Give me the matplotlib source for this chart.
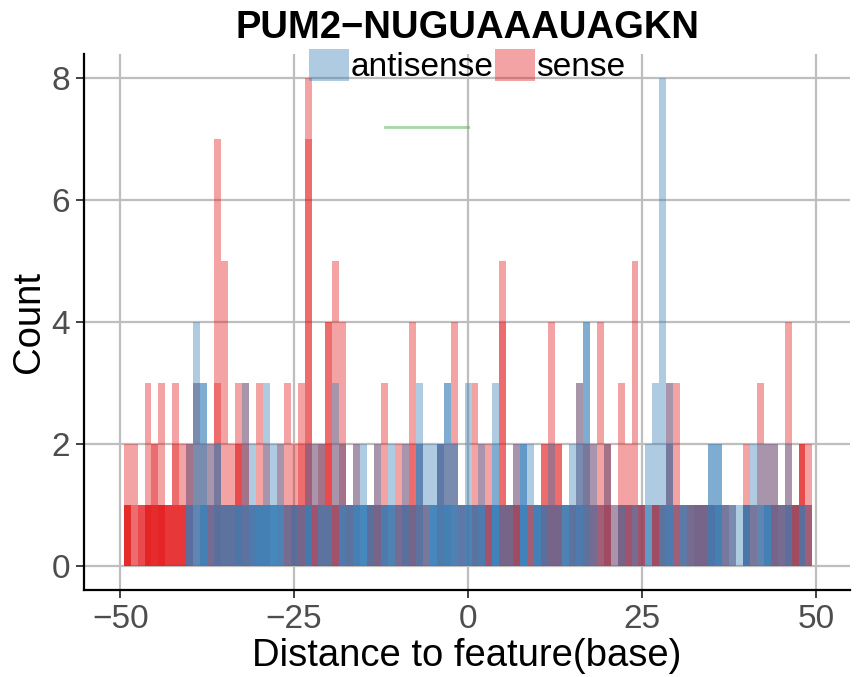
import numpy as np
import matplotlib
matplotlib.use("Agg")
import matplotlib.pyplot as plt
from matplotlib.patches import Patch

plt.rcParams['font.family'] = ['Liberation Sans', 'DejaVu Sans']

# positions (base) relative to the feature
positions = np.arange(-49, 50)

# number of overlapping bars per position, and heights of the taller ones (0 = height 1)
sense_n = [5, 2, 3, 6, 5, 6, 4, 4, 4, 4,
           1, 1, 3, 4, 3, 3, 3, 3, 2, 1,
           1, 0, 1, 3, 4, 4, 3, 4, 3, 3,
           4, 2, 3, 1, 0, 4, 4, 2, 1, 3,
           4, 4, 3, 2, 0, 2, 1, 1, 2, 1,
           3, 2, 4, 0, 4, 4, 5, 0, 3, 1,
           4, 4, 4, 1, 3, 2, 3, 3, 3, 5,
           1, 4, 4, 3, 4, 0, 5, 3, 2, 3,
           2, 3, 4, 4, 3, 1, 2, 1, 0, 3,
           2, 1, 1, 4, 3, 4, 5, 4, 3]
sense_h1 = [2, 2, 0, 3, 2, 3, 0, 3, 2, 2,
            3, 2, 2, 7, 5, 2, 3, 3, 0, 3,
            2, 0, 2, 3, 2, 3, 8, 2, 2, 4,
            5, 4, 0, 2, 0, 0, 2, 3, 0, 2,
            2, 4, 2, 0, 0, 2, 2, 4, 0, 0,
            3, 2, 2, 0, 5, 0, 2, 0, 0, 0,
            2, 4, 2, 0, 0, 3, 2, 2, 4, 2,
            0, 3, 2, 5, 0, 0, 0, 0, 3, 3,
            0, 0, 0, 0, 0, 0, 0, 0, 0, 2,
            0, 3, 2, 2, 0, 4, 0, 2, 2]
sense_h2 = [0, 0, 0, 0, 2, 0, 0, 2, 0, 2,
            0, 0, 0, 3, 0, 0, 2, 2, 0, 0,
            0, 0, 0, 0, 0, 2, 7, 0, 2, 4,
            0, 2, 0, 0, 0, 0, 0, 0, 0, 0,
            0, 2, 0, 0, 0, 2, 0, 0, 0, 0,
            0, 0, 0, 0, 4, 0, 0, 0, 0, 0,
            2, 2, 2, 0, 0, 0, 2, 0, 0, 2,
            0, 0, 0, 0, 0, 0, 0, 0, 2, 0,
            0, 0, 0, 0, 0, 0, 0, 0, 0, 0,
            0, 0, 0, 0, 0, 0, 0, 2, 0]
sense_h3 = [0] * 99
for k in (16, 26, 29, 97):
    sense_h3[k] = 2

anti_n = [0, 0, 0, 0, 0, 0, 0, 0, 0, 3,
          3, 5, 2, 3, 3, 3, 4, 3, 4, 5,
          5, 5, 4, 2, 3, 2, 5, 1, 3, 3,
          1, 4, 3, 5, 5, 3, 2, 4, 4, 2,
          3, 2, 3, 2, 5, 4, 5, 4, 3, 4,
          3, 4, 1, 6, 2, 2, 1, 6, 1, 5,
          3, 2, 2, 4, 3, 4, 3, 2, 1, 1,
          1, 2, 1, 2, 1, 3, 1, 3, 4, 1,
          3, 2, 2, 2, 4, 5, 2, 2, 1, 4,
          2, 3, 5, 2, 2, 3, 1, 3, 1]
anti_h1 = [0, 0, 0, 0, 0, 0, 0, 0, 0, 2,
           4, 3, 2, 2, 0, 0, 0, 3, 2, 0,
           3, 2, 2, 0, 0, 0, 2, 2, 2, 0,
           3, 2, 0, 2, 2, 0, 2, 0, 2, 0,
           2, 0, 3, 2, 2, 2, 3, 2, 0, 3,
           0, 2, 0, 3, 0, 0, 2, 2, 2, 0,
           0, 2, 0, 0, 2, 3, 4, 2, 0, 2,
           0, 0, 0, 0, 0, 2, 3, 8, 3, 0,
           0, 0, 0, 0, 2, 2, 0, 0, 0, 0,
           2, 2, 2, 2, 0, 2, 0, 0, 0]
anti_h2 = [0] * 99
for k, h in ((10, 3), (11, 3), (13, 2), (42, 2), (45, 2), (46, 3), (47, 2),
             (53, 2), (57, 2), (65, 2), (66, 4), (78, 2), (84, 2), (85, 2)):
    anti_h2[k] = h
anti_h3 = [0] * 99
for k in (42, 45, 57):
    anti_h3[k] = 2

SENSE_COL = '#E41A1C'
ANTI_COL = '#377EB8'

fig = plt.figure(figsize=(8.64, 6.77), dpi=100)
ax = fig.add_axes([84 / 864, 1 - 590 / 677, 766 / 864, 536 / 677])


def draw_strand(counts, heights, color):
    stacks = []
    for i in range(len(positions)):
        tall = [h[i] for h in heights if h[i] > 1]
        stacks.append(tall + [1] * (counts[i] - len(tall)))
    depth = max(len(s) for s in stacks)
    for j in range(depth):
        idx = [i for i, s in enumerate(stacks) if len(s) > j]
        ax.bar(positions[idx], [stacks[i][j] for i in idx], width=1.0,
               color=color, alpha=0.4, linewidth=0, antialiased=False,
               zorder=2)


draw_strand(sense_n, [sense_h1, sense_h2, sense_h3], SENSE_COL)
draw_strand(anti_n, [anti_h1, anti_h2, anti_h3], ANTI_COL)

# motif segment
ax.plot([-12, 0], [7.2, 7.2], color='#4DAF4A', alpha=0.5, lw=2, zorder=3)

ax.set_xlim(-55.2, 54.9)
ax.set_ylim(-0.4, 8.4)
ax.set_xticks([-50, -25, 0, 25, 50])
ax.set_yticks([0, 2, 4, 6, 8])
ax.grid(True, color='#BEBEBE', lw=1.6, zorder=0)
ax.set_axisbelow(True)
for s in ('top', 'right'):
    ax.spines[s].set_visible(False)
for s in ('left', 'bottom'):
    ax.spines[s].set_linewidth(1.6)
    ax.spines[s].set_color('black')
ax.tick_params(length=6, width=1.3, color='#333333', labelcolor='#4D4D4D',
               labelsize=24, pad=4)
ax.set_xlabel('Distance to feature(base)', fontsize=27.5, labelpad=2)
ax.set_ylabel('Count', fontsize=27.5, labelpad=3)

fig.text(467 / 864, 1 - 28 / 677, 'PUM2\u2212NUGUAAAUAGKN', ha='center',
         va='center', fontsize=27.5, fontweight='bold')

handles = [Patch(facecolor=ANTI_COL, alpha=0.4, lw=0),
           Patch(facecolor=SENSE_COL, alpha=0.4, lw=0)]
fig.legend(handles, ['antisense', 'sense'], ncol=2, loc='center',
           bbox_to_anchor=(467 / 864, 1 - 66 / 677), frameon=False,
           fontsize=24, handlelength=1.2, handleheight=1.1,
           handletextpad=0.05, columnspacing=0.05, borderpad=0)

fig.savefig('out.png', dpi=100)
